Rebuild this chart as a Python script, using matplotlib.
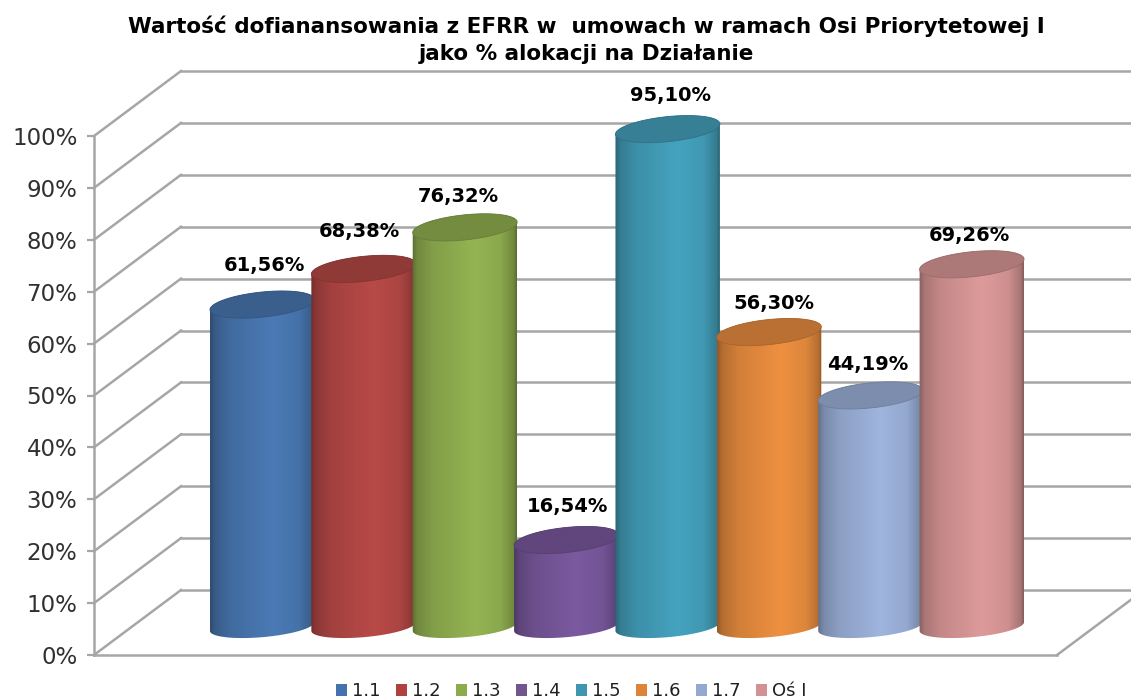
import matplotlib
matplotlib.use('Agg')
import matplotlib.pyplot as plt
import numpy as np
from matplotlib.patches import Patch, PathPatch
from matplotlib.path import Path
from matplotlib.transforms import ScaledTranslation
from matplotlib.colors import to_rgb

plt.rcParams['font.family'] = ['DejaVu Sans']

# dane
kategorie = ['1.1', '1.2', '1.3', '1.4', '1.5', '1.6', '1.7', 'Oś I']
wartosci = [61.56, 68.38, 76.32, 16.54, 95.10, 56.30, 44.19, 69.26]
etykiety = ['61,56%', '68,38%', '76,32%', '16,54%', '95,10%', '56,30%', '44,19%', '69,26%']
kolory = ['#4a7ab5', '#b84a47', '#94b452', '#7b5aa0', '#45a3bf', '#ee9040', '#9fb5de', '#de9a9a']
kolory_leg = ['#4273ae', '#b0413e', '#8cab4d', '#71558f', '#4095b0', '#de8438', '#94a9d2', '#d39292']
podzialka = list(range(0, 101, 10))

W, H = 1131, 700
SZARY = '#a6a6a6'


def box(x0, y_top, x1, y_bottom):
    return [x0 / W, 1 - y_bottom / H, (x1 - x0) / W, (y_bottom - y_top) / H]


fig = plt.figure(figsize=(W / 100, H / 100), dpi=100)

# os glowna (przednia krawedz wykresu)
ax = fig.add_axes(box(94, 136, 1057, 655))
ax.set_xlim(0, 1)
ax.set_ylim(0, 100)
ax.set_yticks(podzialka)
ax.set_yticklabels([f'{p}%' for p in podzialka], fontsize=16.5, color='#303030')
ax.set_xticks([])
ax.tick_params(axis='y', length=5, width=1.6, color=SZARY, pad=7)
ax.patch.set_visible(False)
for s in ['top', 'right']:
    ax.spines[s].set_visible(False)
for s in ['left', 'bottom']:
    ax.spines[s].set_color(SZARY)
    ax.spines[s].set_linewidth(1.8)

# tylna sciana przesunieta o glebokosc 3D
tyl = ax.transData + ScaledTranslation(87 / 100, 65 / 100, fig.dpi_scale_trans)
for p in podzialka:
    ax.plot([0, 1.1], [p, p], transform=tyl, color=SZARY, lw=1.8, clip_on=False, zorder=1)
    # skos od osi do sciany
    x0, y0 = ax.transData.transform((0, p))
    x1, y1 = tyl.transform((0, p))
    ax.plot([x0, x1], [y0, y1], transform=None, color=SZARY, lw=1.8, clip_on=False, zorder=1)
x0, y0 = ax.transData.transform((1, 0))
x1, y1 = tyl.transform((1, 0))
ax.plot([x0, x1], [y0, y1], transform=None, color=SZARY, lw=1.8, clip_on=False, zorder=1)

# os slupkow (walce stoja w srodku glebokosci)
ax2 = fig.add_axes(box(211.5, 103.5, 1022.5, 626.5))
ax2.set_xlim(-0.5, 7.5)
ax2.set_ylim(0, 100)
ax2.axis('off')
ax2.patch.set_visible(False)

ROZ_X = 52.5
ROZ_Y = 12.5
KAT = np.radians(6)
t = np.linspace(0, 2 * np.pi, 121)[:-1]
ex = ROZ_X * np.cos(t) * np.cos(KAT) - ROZ_Y * np.sin(t) * np.sin(KAT)
ey = ROZ_X * np.cos(t) * np.sin(KAT) + ROZ_Y * np.sin(t) * np.cos(KAT)
ed = np.column_stack([ex, ey])

prof_x = [0, 0.05, 0.2, 0.6, 0.85, 0.97, 1]
prof_y = [0.62, 0.76, 0.88, 1.0, 0.93, 0.76, 0.6]
inv = ax2.transData.inverted()
lewy = int(np.argmin(ex))
prawy = int(np.argmax(ex))

for i, v in enumerate(wartosci):
    dol = ax2.transData.transform((i, 0))
    gora = ax2.transData.transform((i, v))
    # bryla walca: dolny polobwod + gorny polobwod (dol troche bardziej plaski)
    dolna = [dol + ed[k % 120] * [1, 0.85] for k in range(lewy, prawy + 121)]
    gorna = [gora + ed[k % 120] for k in range(prawy, lewy + 1)]
    srodek = inv.transform(np.array(dolna + gorna))
    bok = Path(np.vstack([srodek, srodek[0]]), closed=True)

    rgb = np.array(to_rgb(kolory[i]))
    jasnosc = np.interp(np.linspace(0, 1, 200), prof_x, prof_y)
    obraz = np.clip(jasnosc[None, :, None] * rgb[None, None, :], 0, 1)
    lewo = inv.transform(dol - [ROZ_X, 0])[0]
    prawo = inv.transform(dol + [ROZ_X, 0])[0]
    y_min = inv.transform(dol - [0, 25])[1]
    y_max = inv.transform(gora + [0, 25])[1]
    im = ax2.imshow(obraz, extent=[lewo, prawo, y_min, y_max], aspect='auto', zorder=2 + i)
    im.set_clip_box(fig.bbox)
    im.set_clip_path(PathPatch(bok, transform=ax2.transData))

    # gorna pokrywa walca
    e_gora = inv.transform(gora + ed)
    pokrywa = Path(np.vstack([e_gora, e_gora[:1]]), closed=True)
    ax2.add_patch(PathPatch(pokrywa, facecolor=rgb * 0.78, edgecolor=rgb * 0.7, lw=0.6,
                            zorder=2 + i, clip_on=False))

ax2.set_xlim(-0.5, 7.5)
ax2.set_ylim(0, 100)

# przesuniecia etykiet w pikselach
prz_x = [2.5, -3.8, -7, 1.6, 3.3, 5, -2.3, -2.6]
prz_y = [38.6, 37, 31, 33, 34, 29, 31, 29]
for i, v in enumerate(wartosci):
    ax2.annotate(etykiety[i], (i, v), xytext=(prz_x[i] * 0.72, prz_y[i] * 0.72),
                 textcoords='offset points', ha='center', va='center',
                 fontsize=14, fontweight='bold', color='black', zorder=30, annotation_clip=False)

fig.text(586 / W, 1 - 26 / H, 'Wartość dofianansowania z EFRR w  umowach w ramach Osi Priorytetowej I',
         ha='center', va='center', fontsize=15.5, fontweight='bold')
fig.text(586 / W, 1 - 54 / H, 'jako % alokacji na Działanie',
         ha='center', va='center', fontsize=15.5, fontweight='bold')

uchwyty = [Patch(facecolor=c, edgecolor='none', label=k) for c, k in zip(kolory_leg, kategorie)]
fig.legend(handles=uchwyty, loc='center left', bbox_to_anchor=(336 / W, 1 - 691.5 / H), ncol=8, frameon=False,
           fontsize=13, handlelength=0.61, handleheight=0.61, handletextpad=0.28, columnspacing=0.85,
           borderpad=0, borderaxespad=0, labelcolor='#202020')

fig.savefig('out.png', dpi=100)
